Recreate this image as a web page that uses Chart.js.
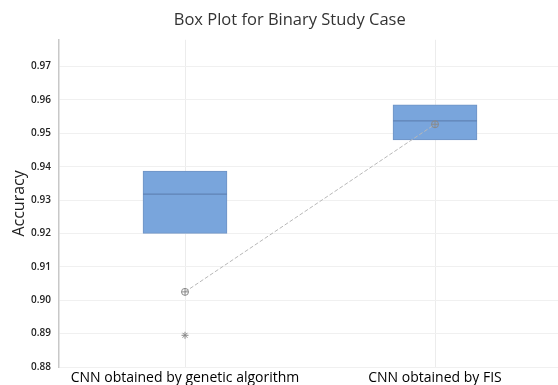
<!DOCTYPE html>
<html>
<head>
<meta charset="utf-8">
<script src="https://cdn.jsdelivr.net/npm/chart.js@4/dist/chart.umd.min.js"></script>
<style>
  html, body { margin: 0; padding: 0; background: #fff; overflow: hidden; }
  #wrap { width: 558px; height: 385px; }
</style>
</head>
<body>
<div id="wrap"><canvas id="chart"></canvas></div>
<script>
// groups and box plot statistics
var categories = ["CNN obtained by genetic algorithm", "CNN obtained by FIS"];
var q1 = [0.9200, 0.9480];
var q3 = [0.9387, 0.9585];
var medians = [0.9318, 0.9537];
var means = [0.9025, 0.9527];
var outliers = [[0.8895], []];
var yTicks = [0.88, 0.89, 0.90, 0.91, 0.92, 0.93, 0.94, 0.95, 0.96, 0.97];

var boxData = categories.map(function (c, i) { return {x: i + 1, y: [q1[i], q3[i]]}; });
var medianData = categories.map(function (c, i) { return {x: i + 1, y: medians[i]}; });
var meanData = categories.map(function (c, i) { return {x: i + 1, y: means[i]}; });
var outlierData = [];
outliers.forEach(function (list, i) {
    list.forEach(function (v) { outlierData.push({x: i + 1, y: v}); });
});

var chart = new Chart(document.getElementById("chart"), {
    data: {
        datasets: [
            {
                type: "bar",
                data: boxData,
                backgroundColor: "#79a5dc",
                borderColor: "#6f93c4",
                borderWidth: 1,
                borderSkipped: false,
                barThickness: 84,
                grouped: false,
                order: 5
            },
            {
                type: "scatter",
                data: medianData,
                pointStyle: "line",
                pointRadius: 42,
                borderColor: "#6183b5",
                borderWidth: 1.2,
                order: 4
            },
            {
                type: "line",
                data: meanData,
                borderColor: "#b8b8b8",
                borderWidth: 1,
                borderDash: [4, 2],
                pointStyle: "circle",
                pointRadius: 3.5,
                pointBorderColor: "#8a8a8a",
                pointBackgroundColor: "rgba(0,0,0,0)",
                pointBorderWidth: 1,
                fill: false,
                order: 3
            },
            {
                type: "scatter",
                data: meanData,
                pointStyle: "cross",
                pointRadius: 3.5,
                borderColor: "#8a8a8a",
                borderWidth: 1,
                order: 2
            },
            {
                type: "scatter",
                data: outlierData,
                pointStyle: "star",
                pointRadius: 3.5,
                borderColor: "#8a8a8a",
                borderWidth: 1,
                order: 1
            }
        ]
    },
    options: {
        responsive: true,
        maintainAspectRatio: false,
        animation: false,
        layout: { padding: 0, autoPadding: false },
        plugins: {
            legend: { display: false },
            tooltip: { enabled: false },
            title: {
                display: true,
                // leading spaces nudge the title right, as in the original
                text: "     Box Plot for Binary Study Case",
                color: "#333333",
                font: { family: "Open Sans", size: 16.5, weight: "normal" },
                padding: { top: 10, bottom: 10 }
            }
        },
        scales: {
            x: {
                type: "linear",
                offset: false,
                min: 0.496,
                max: 2.492,
                afterBuildTicks: function (scale) {
                    scale.ticks = categories.map(function (c, i) { return {value: i + 1}; });
                },
                afterFit: function (scale) {
                    scale.height = 18;
                },
                ticks: {
                    autoSkip: false,
                    maxRotation: 0,
                    padding: 3,
                    color: "#000000",
                    font: { family: "Open Sans", size: 14 },
                    callback: function (v) { return categories[Math.round(v) - 1]; }
                },
                grid: { color: "#ececec", drawTicks: false, offset: false },
                border: { display: false }
            },
            y: {
                min: 0.88,
                max: 0.978,
                afterBuildTicks: function (scale) {
                    scale.ticks = yTicks.map(function (v) { return {value: v}; });
                },
                afterFit: function (scale) { scale.width = 59; },
                ticks: {
                    padding: 8,
                    color: "#222222",
                    font: { family: "Open Sans", size: 10, weight: "600" },
                    callback: function (v) { return v.toFixed(2); }
                },
                grid: { color: "#f0f0f0", drawTicks: false },
                border: { display: true, color: "#c8c8c8", width: 1.5 },
                title: {
                    display: true,
                    text: "Accuracy",
                    color: "#222222",
                    font: { family: "Open Sans", size: 16 },
                    padding: { top: 10, bottom: 0 }
                }
            }
        }
    }
});
</script>
</body>
</html>
